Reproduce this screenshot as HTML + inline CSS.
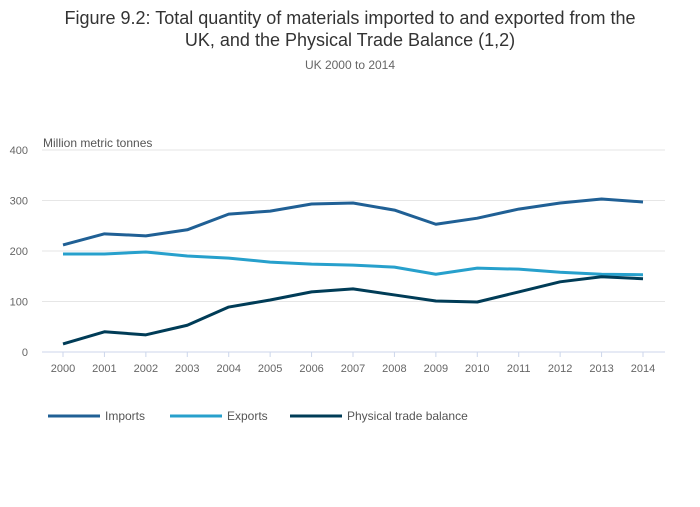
<!DOCTYPE html>
<html><head><meta charset="utf-8"><style>
body{margin:0;background:#fff;font-family:"Liberation Sans",sans-serif}
svg text{font-family:"Liberation Sans",sans-serif}
</style></head><body>
<svg id="chart" width="700" height="502">
<text x="350" y="24" text-anchor="middle" font-size="18" fill="#333">Figure 9.2: Total quantity of materials imported to and exported from the</text>
<text x="350" y="46" text-anchor="middle" font-size="18" fill="#333">UK, and the Physical Trade Balance (1,2)</text>
<text x="350" y="69" text-anchor="middle" font-size="12" fill="#666">UK 2000 to 2014</text>
<text x="43" y="147" font-size="12" fill="#555">Million metric tonnes</text>
<g id="grid"></g><g id="series"></g><g id="legend"></g>
</svg>
<script>
const years=["2000","2001","2002","2003","2004","2005","2006","2007","2008","2009","2010","2011","2012","2013","2014"];
const imports=[212,234,230,242,273,279,293,295,281,253,265,283,295,303,297];
const exportsData=[194,194,198,190,186,178,174,172,168,154,166,164,158,154,153];
const balance=[16,40,34,53,89,103,119,125,113,101,99,119,139,149,145];
const yTicks=[0,100,200,300,400];
const NS="http://www.w3.org/2000/svg";
const x=i=>63+i*(643-63)/(years.length-1);
const y=v=>352-v*0.505;
function mk(t,a,p){const e=document.createElementNS(NS,t);for(const k in a)e.setAttribute(k,a[k]);p.appendChild(e);return e;}
const grid=document.getElementById('grid');
yTicks.forEach(v=>{
 const l=mk('line',{x1:42,x2:665,y1:y(v),y2:y(v),stroke:v===0?'#ccd6eb':'#e6e6e6'},grid);
 
 
 const t=mk('text',{x:28,y:y(v)+4,'text-anchor':'end','font-size':11,fill:'#666'},grid);t.textContent=v;
 
 
});
years.forEach((yr,i)=>{
 const tk=mk('line',{x1:x(i),x2:x(i),y1:352,y2:357,stroke:'#ccd6eb'},grid);
 
 
 const t=mk('text',{x:x(i),y:372,'text-anchor':'middle','font-size':11,fill:'#666'},grid);t.textContent=yr;
 
 
});
const series=[["Imports",imports,"#206095"],["Exports",exportsData,"#27a0cc"],["Physical trade balance",balance,"#003c57"]];
const sg=document.getElementById('series'),lg=document.getElementById('legend');
const lx=[48,170,290];
series.forEach((s,k)=>{
 const p=mk('path',{d:s[1].map((v,i)=>(i?'L':'M')+x(i)+','+y(v)).join(''),fill:'none',stroke:s[2],'stroke-width':3,'stroke-linejoin':'round'},sg);
 
 
 const g=mk('g',{},lg);
 
 
 mk('line',{x1:lx[k],x2:lx[k]+52,y1:416,y2:416,stroke:s[2],'stroke-width':3},g);
 const t=mk('text',{x:lx[k]+57,y:420,'font-size':12,fill:'#555'},g);t.textContent=s[0];
});
</script>
</body></html>
